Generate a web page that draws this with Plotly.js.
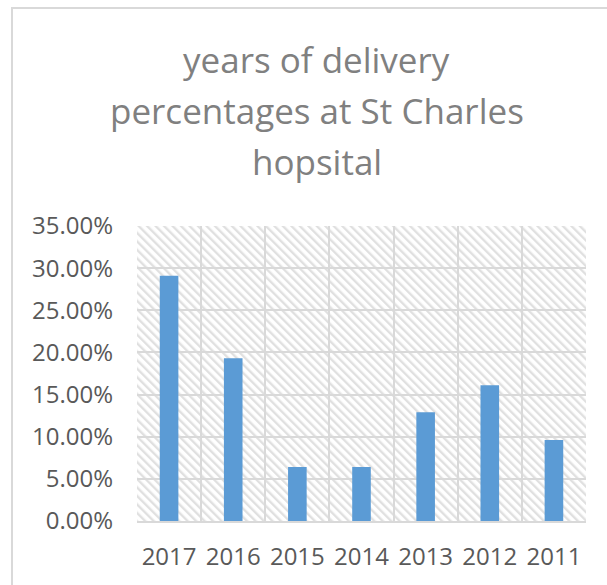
<!DOCTYPE html>
<html>
<head>
<meta charset="utf-8">
<script src="https://cdn.plot.ly/plotly-3.0.1.min.js"></script>
<style>html,body{margin:0;padding:0;background:#fff;}</style>
</head>
<body>
<div id="chart" style="width:607px;height:585px;"></div>
<script>
var years = ["2017", "2016", "2015", "2014", "2013", "2012", "2011"];
var percentages = [29.1, 19.3, 6.4, 6.4, 12.9, 16.1, 9.6];
var titleLines = ["years of delivery", "percentages at St Charles", "hopsital"];
var yTicks = [0, 5, 10, 15, 20, 25, 30, 35];

var hatchSvg = "<svg xmlns='http://www.w3.org/2000/svg' width='449' height='295'>" +
  "<defs><pattern id='p' width='6' height='6' patternUnits='userSpaceOnUse' patternTransform='rotate(-45)'>" +
  "<rect width='2.4' height='6' fill='#e0e0e0'/></pattern></defs>" +
  "<rect width='100%' height='100%' fill='url(#p)'/></svg>";
var hatchUri = "data:image/svg+xml;charset=utf-8," + encodeURIComponent(hatchSvg);

var trace = {
  type: "bar",
  x: years,
  y: percentages,
  marker: {color: "#5b9bd5"},
  width: 0.29,
  hoverinfo: "x+y"
};

var titleY = [1.565, 1.393, 1.218];
var annotations = titleLines.map(function (t, i) {
  return {
    text: t, xref: "paper", yref: "paper", x: 0.4, y: titleY[i],
    xanchor: "center", yanchor: "middle", showarrow: false,
    font: {family: "Open Sans, sans-serif", size: 35, color: "#808080"}
  };
});

var layout = {
  width: 607, height: 585,
  margin: {l: 137, r: 21, t: 226, b: 64, pad: 0},
  paper_bgcolor: "#ffffff",
  plot_bgcolor: "#ffffff",
  showlegend: false,
  font: {family: "Open Sans, sans-serif", size: 24, color: "#595959"},
  xaxis: {
    type: "category",
    tickson: "boundaries",
    showgrid: true, gridcolor: "#d9d9d9", gridwidth: 2,
    showline: true, linecolor: "#d9d9d9", linewidth: 2,
    ticks: "", ticklabelstandoff: 13,
    tickfont: {family: "Open Sans, sans-serif", size: 24, color: "#595959"},
    fixedrange: true
  },
  yaxis: {
    range: [0, 35],
    tickvals: yTicks,
    ticktext: yTicks.map(function (v) { return v.toFixed(2) + "%"; }),
    showgrid: true, gridcolor: "#d9d9d9", gridwidth: 2,
    zeroline: false, showline: false,
    ticks: "", ticklabelstandoff: 23,
    tickfont: {family: "Open Sans, sans-serif", size: 24, color: "#595959"},
    fixedrange: true
  },
  images: [{
    source: hatchUri, xref: "paper", yref: "paper",
    x: 0, y: 1, sizex: 1, sizey: 1, sizing: "stretch",
    xanchor: "left", yanchor: "top", layer: "below"
  }],
  shapes: [{
    type: "rect", xref: "paper", yref: "paper",
    x0: -0.2784, x1: 1.2, y0: -0.5, y1: 1.739,
    line: {color: "#d9d9d9", width: 2}, fillcolor: "rgba(0,0,0,0)", layer: "below"
  }],
  annotations: annotations
};

Plotly.newPlot("chart", [trace], layout, {displayModeBar: false, staticPlot: true});
</script>
</body>
</html>
